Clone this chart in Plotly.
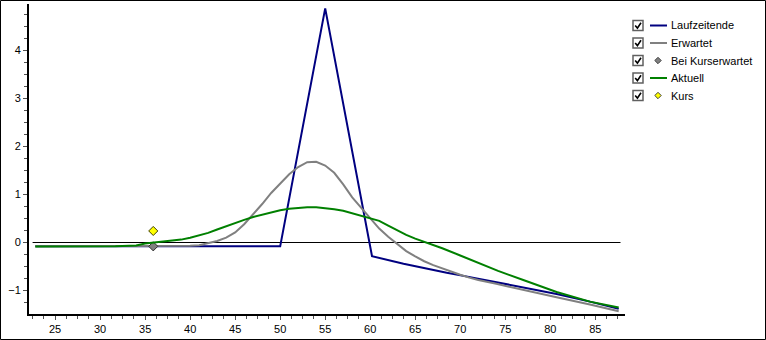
import plotly.graph_objects as go

# ---------------- data ----------------
lz_x = [22.8, 50.0, 55.0, 60.2, 63.7, 66.3, 68.5, 71.1, 74.2, 77.0, 80.7, 84.4, 87.6]
lz_y = [-0.08, -0.08, 4.87, -0.285, -0.44, -0.55, -0.63, -0.72, -0.83, -0.93, -1.07, -1.23, -1.38]

erw_x = [22.8, 38, 40, 41, 42, 43, 44, 45, 46, 47, 48, 49, 50, 51, 52, 53, 54, 55, 56, 57,
         58, 59, 60, 61, 62, 63, 64, 65, 66, 67, 68, 69, 70, 71, 72, 74, 77, 80.7, 84.4, 87.6]
erw_y = [-0.08, -0.08, -0.07, -0.055, -0.02, 0.03, 0.10, 0.21, 0.38, 0.58, 0.80, 1.03, 1.23,
         1.42, 1.57, 1.67, 1.68, 1.60, 1.45, 1.21, 0.94, 0.72, 0.49, 0.29, 0.12, -0.03, -0.18,
         -0.29, -0.39, -0.47, -0.54, -0.61, -0.67, -0.73, -0.78, -0.86, -0.99, -1.14, -1.29, -1.43]

akt_x = [22.8, 31.7, 34, 35, 36, 37, 38, 39, 40, 41, 42, 43, 44, 45, 46, 47, 48, 49, 50, 51,
         52, 53, 54, 55, 56, 57, 58, 59, 60, 61, 62, 63, 64, 65, 66.3, 68, 70, 72, 74.2, 77,
         80.7, 84.4, 87.6]
akt_y = [-0.083, -0.08, -0.06, -0.02, 0.0, 0.02, 0.04, 0.06, 0.10, 0.15, 0.20, 0.27, 0.34,
         0.41, 0.47, 0.53, 0.58, 0.63, 0.67, 0.70, 0.72, 0.735, 0.735, 0.72, 0.69, 0.66, 0.61,
         0.55, 0.50, 0.45, 0.35, 0.25, 0.16, 0.08, 0.0, -0.12, -0.27, -0.42, -0.59, -0.78,
         -1.03, -1.23, -1.35]

bke_x = [35.9]
bke_y = [-0.08]
kurs_x = [35.9]
kurs_y = [0.24]

legend_labels = ["Laufzeitende", "Erwartet", "Bei Kurserwartet", "Aktuell", "Kurs"]

# ---------------- styling ----------------
NAVY, GRAY, GREEN, YELLOW = "#000080", "#808080", "#008000", "#FFFF00"
FONT = "Liberation Sans, Arial, sans-serif"
W, H = 766, 340
ML, MR, MT, MB = 29, 141, 4, 26
PW, PH = W - ML - MR, H - MT - MB


def px(x):
    return (x - ML) / PW


def py(y):
    return (H - MB - y) / PH


fig = go.Figure()
fig.add_trace(go.Scatter(x=lz_x, y=lz_y, mode="lines", line=dict(color=NAVY, width=2), showlegend=False))
fig.add_trace(go.Scatter(x=erw_x, y=erw_y, mode="lines", line=dict(color=GRAY, width=2), showlegend=False))
fig.add_trace(go.Scatter(x=bke_x, y=bke_y, mode="markers",
                         marker=dict(symbol="diamond", size=7, color=GRAY, line=dict(color="#303030", width=1)),
                         showlegend=False))
fig.add_trace(go.Scatter(x=akt_x, y=akt_y, mode="lines", line=dict(color=GREEN, width=2), showlegend=False))
fig.add_trace(go.Scatter(x=kurs_x, y=kurs_y, mode="markers",
                         marker=dict(symbol="diamond", size=7, color=YELLOW, line=dict(color="#404000", width=1)),
                         showlegend=False))

shapes = []
# zero line
shapes.append(dict(type="line", xref="x", yref="y", x0=22.5, x1=87.8, y0=0, y1=0,
                   line=dict(color="black", width=1), layer="below"))
# outer border
shapes.append(dict(type="rect", xref="paper", yref="paper", x0=px(0.5), x1=px(765.5),
                   y0=py(339.5), y1=py(0.5), line=dict(color="black", width=1)))

annotations = []
rows = [25.5, 43, 60.5, 78, 95.5]
kinds = [("line", NAVY), ("line", GRAY), ("diamond", GRAY), ("line", GREEN), ("diamond", YELLOW)]
for c, lab, (kind, col) in zip(rows, legend_labels, kinds):
    # checkbox
    shapes.append(dict(type="rect", xref="paper", yref="paper", x0=px(633), x1=px(643),
                       y0=py(c + 5), y1=py(c - 5), line=dict(color="#606060", width=1.5),
                       fillcolor="white"))
    shapes.append(dict(type="path", xref="paper", yref="paper",
                       path=f"M {px(635.2)},{py(c)} L {px(637.4)},{py(c + 2.6)} L {px(641)},{py(c - 2.8)}",
                       line=dict(color="black", width=1.6)))
    if kind == "line":
        shapes.append(dict(type="line", xref="paper", yref="paper", x0=px(650), x1=px(667),
                           y0=py(c), y1=py(c), line=dict(color=col, width=2)))
    else:
        r = 3.2
        shapes.append(dict(type="path", xref="paper", yref="paper",
                           path=(f"M {px(658)},{py(c - r)} L {px(658 + r)},{py(c)} "
                                 f"L {px(658)},{py(c + r)} L {px(658 - r)},{py(c)} Z"),
                           fillcolor=col, line=dict(color="#404040", width=1)))
    annotations.append(dict(xref="paper", yref="paper", x=px(669), y=py(c), text=lab,
                            showarrow=False, xanchor="left", yanchor="middle",
                            font=dict(family=FONT, size=11, color="black")))

axis_common = dict(showgrid=False, zeroline=False, showline=True, linecolor="black", linewidth=2,
                   ticks="outside", ticklen=4, tickwidth=1, tickcolor="#505050",
                   tickfont=dict(family=FONT, size=11, color="black"), fixedrange=True)

fig.update_layout(
    width=W, height=H,
    margin=dict(l=ML, r=MR, t=MT, b=MB, pad=0),
    paper_bgcolor="white", plot_bgcolor="white",
    showlegend=False,
    shapes=shapes, annotations=annotations,
    xaxis=dict(range=[22.1, 88.3], tick0=0, dtick=5,
               minor=dict(tick0=0, dtick=1.25, ticks="outside", ticklen=3, tickcolor="#505050"),
               **axis_common),
    yaxis=dict(range=[-1.487, 4.96], tick0=0, dtick=1,
               minor=dict(tick0=0, dtick=0.25, ticks="outside", ticklen=3, tickcolor="#505050"),
               **axis_common),
)

fig.write_html("out.html")
